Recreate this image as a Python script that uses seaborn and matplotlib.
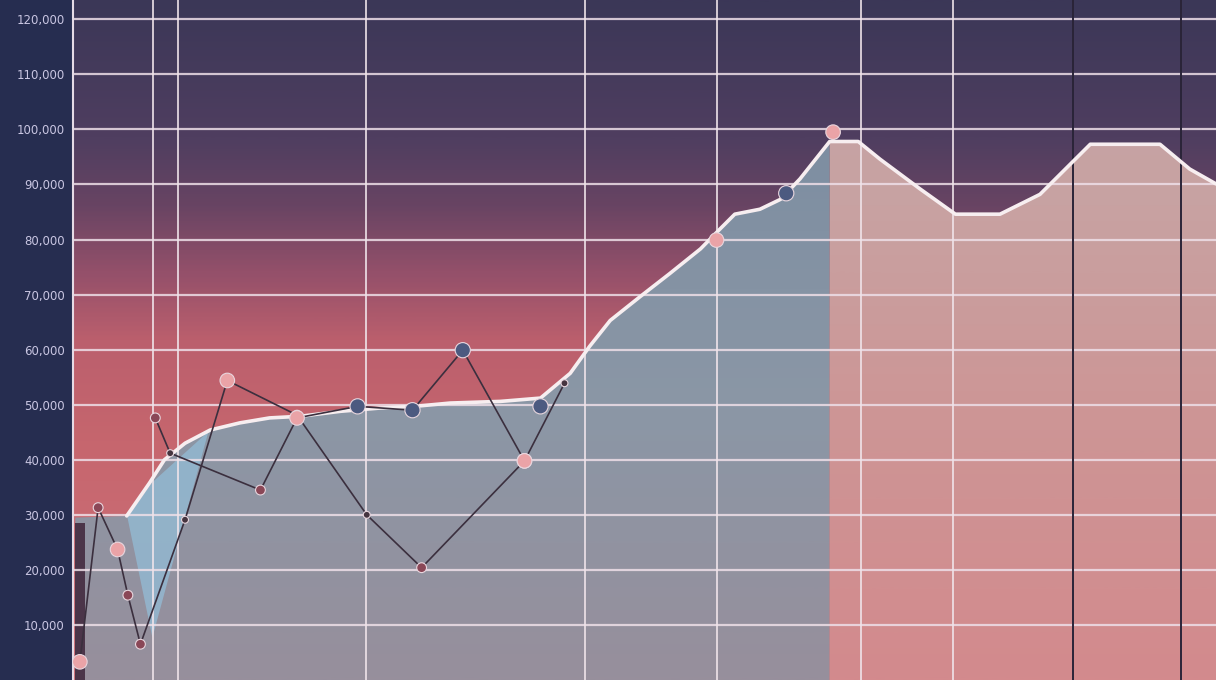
import numpy as np
import pandas as pd
import matplotlib
matplotlib.use('Agg')
import matplotlib.pyplot as plt
import seaborn as sns
from matplotlib.colors import LinearSegmentedColormap

# main area series (week index vs value in thousands)
main_x = [0.2, 4.7, 6.7, 8.0, 9.8, 12.0, 14.6, 17.2, 19.9, 23.4, 26.9, 29.9, 33.0, 37.4,
          40.9, 43.5, 45.2, 47.0, 49.6, 52.2, 54.9, 56.6, 57.9, 60.1, 61.9, 63.6, 66.2,
          68.7, 70.6, 74.1, 77.2, 81.1, 84.6, 89.0, 95.1, 97.7, 100.0]
main_y = [29.5, 29.8, 35.8, 40.0, 43.0, 45.4, 46.7, 47.6, 47.9, 48.8, 49.4, 49.7, 50.3, 50.6,
          51.2, 55.7, 60.6, 65.3, 69.6, 73.8, 78.3, 81.9, 84.6, 85.5, 87.3, 91.0, 97.8,
          97.8, 94.6, 89.2, 84.6, 84.6, 88.2, 97.3, 97.3, 92.8, 90.1]
split_x = 66.2

# zigzag series A
zig_a_x = [0.6, 2.2, 3.9, 4.8, 5.9, 9.8, 13.5, 19.6, 25.7, 30.5, 39.5, 43.0]
zig_a_y = [3.3, 31.3, 23.7, 15.4, 6.5, 29.1, 54.4, 48.1, 30.0, 20.4, 39.8, 53.9]
zig_a_kind = ['pink', 'maroon', 'pink', 'maroon', 'maroon', 'small', 'pink', 'maroon',
              'small', 'maroon', 'pink', 'small']

# zigzag series B
zig_b_x = [7.2, 8.5, 16.4, 19.6, 24.9, 29.7, 34.1, 39.5]
zig_b_y = [47.6, 41.2, 34.5, 47.6, 49.7, 49.0, 59.9, 39.8]
zig_b_kind = ['maroon', 'small', 'maroon', 'pink', 'navy', 'navy', 'navy', 'pink']

# highlighted points on the main curve
hl_x = [40.9, 56.3, 62.4, 66.5]
hl_y = [49.7, 79.9, 88.4, 99.5]
hl_kind = ['navy', 'pink', 'navy', 'pink']

# light blue wedge under the curve
wedge_x = [4.7, 6.9, 11.8]
wedge_lo = [29.8, 7.8, 45.2]
wedge_hi = [29.8, 36.0, 45.2]

# narrow base bar at the start
base_x = [0.6]
base_h = [28.5]

y_ticks = list(range(10, 121, 10))
v_grid = [7.0, 9.2, 25.6, 44.8, 56.3, 68.9, 77.0]
v_dark = [87.5, 96.9]

sns.set_theme(style='white')
plt.rcParams['font.family'] = ['DejaVu Sans']

Y_TOP = 123.5
fig = plt.figure(figsize=(12.16, 6.8), dpi=100, facecolor='#262d50')
ax = fig.add_axes([73 / 1216, 0, 1 - 73 / 1216, 1])

grad = np.linspace(0, 1, 400).reshape(-1, 1)


def vgrad(stops, zorder, clip=None):
    cm = LinearSegmentedColormap.from_list('g', stops)
    im = ax.imshow(grad, extent=[0, 100, 0, Y_TOP], aspect='auto', cmap=cm,
                   origin='upper', zorder=zorder)
    if clip is not None:
        im.set_clip_path(clip.get_paths()[0], ax.transData)
    return im


# background
vgrad([(0.00, '#3b3757'), (0.20, '#4f3e60'), (0.30, '#684463'),
       (0.40, '#94506a'), (0.50, '#bb5f6d'), (0.65, '#c6666e'), (1.00, '#cf727a')], 0)

mx = np.array(main_x)
my = np.array(main_y)
left_poly = ax.fill_between(mx, my, 0, where=mx <= split_x, facecolor='none', lw=0)
right_poly = ax.fill_between(mx, my, 0, where=mx >= split_x, facecolor='none', lw=0)
vgrad([(0.0, '#72859a'), (0.25, '#7f8fa2'), (0.6, '#8b97a6'), (1.0, '#978f9c')], 1, left_poly)
vgrad([(0.0, '#c2a3a6'), (0.3, '#c8a2a2'), (0.6, '#cd9696'), (1.0, '#d38a8d')], 1, right_poly)
ax.fill_between(wedge_x, wedge_lo, wedge_hi, color='#93bad3', alpha=0.8, lw=0, zorder=1.2)
ax.bar(base_x, base_h, width=0.9, color='#4b3549', linewidth=0, zorder=1.3)

# grid
for v in y_ticks:
    ax.axhline(v, color='#eedfe8', lw=1.6, alpha=0.85, zorder=2)
for v in v_grid:
    ax.axvline(v, color='#f0e4ea', lw=1.4, alpha=0.85, zorder=2)
for v in v_dark:
    ax.axvline(v, color='#2a2438', lw=1.4, zorder=2)

# lines
sns.lineplot(x=main_x[1:], y=main_y[1:], sort=False, ax=ax, color='#f7eef0', lw=2.6, zorder=4)
sns.lineplot(x=zig_a_x, y=zig_a_y, sort=False, ax=ax, color='#3b2f3e', lw=1.2, zorder=5)
sns.lineplot(x=zig_b_x, y=zig_b_y, sort=False, ax=ax, color='#3b2f3e', lw=1.2, zorder=5)

pts = pd.DataFrame({
    'x': zig_a_x + zig_b_x + hl_x,
    'y': zig_a_y + zig_b_y + hl_y,
    'kind': zig_a_kind + zig_b_kind + hl_kind,
})
palette = {'pink': '#eaa3a7', 'navy': '#4c5a80', 'maroon': '#8a4757', 'small': '#45343f'}
sizes = {'pink': 110, 'navy': 120, 'maroon': 50, 'small': 25}
sns.scatterplot(data=pts, x='x', y='y', hue='kind', size='kind', palette=palette,
                sizes=sizes, edgecolor='#e8d6de', linewidth=0.8, legend=False,
                ax=ax, zorder=6)

ax.set_xlim(0, 100)
ax.set_ylim(0, Y_TOP)
ax.set_yticks(y_ticks)
ax.set_yticklabels([f'{v * 1000:,}' for v in y_ticks], color='#c9c6e2', fontsize=8.5)
ax.tick_params(axis='y', length=0, pad=6)
ax.set_xticks([])
ax.set_xlabel('')
ax.set_ylabel('')
for s in ['top', 'right', 'bottom']:
    ax.spines[s].set_visible(False)
ax.spines['left'].set_color('#e6dbe6')
ax.spines['left'].set_linewidth(1.5)

plt.savefig('out.png', dpi=100, facecolor=fig.get_facecolor())
